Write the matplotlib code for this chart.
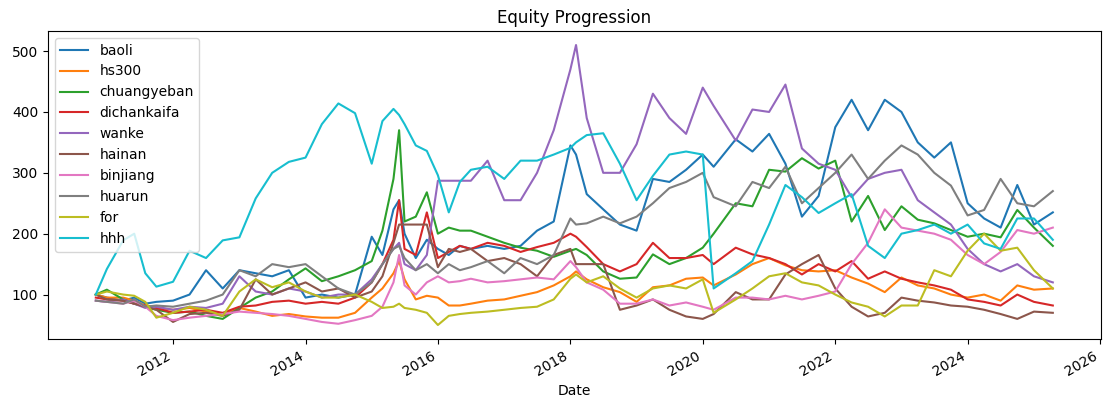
import matplotlib
matplotlib.use("Agg")
import matplotlib.pyplot as plt
import pandas as pd

dates = ["2010-11-01", "2011-01-01", "2011-04-01", "2011-06-01", "2011-08-01", "2011-10-01",
         "2012-01-01", "2012-04-01", "2012-07-01", "2012-10-01", "2013-01-01", "2013-04-01",
         "2013-07-01", "2013-10-01", "2014-01-01", "2014-04-01", "2014-07-01", "2014-10-01",
         "2015-01-01", "2015-03-01", "2015-05-01", "2015-06-01", "2015-07-01", "2015-09-01",
         "2015-11-01", "2016-01-01", "2016-03-01", "2016-05-01", "2016-07-01", "2016-10-01",
         "2017-01-01", "2017-04-01", "2017-07-01", "2017-10-01", "2018-01-01", "2018-02-01",
         "2018-04-01", "2018-07-01", "2018-10-01", "2019-01-01", "2019-04-01", "2019-07-01",
         "2019-10-01", "2020-01-01", "2020-03-01", "2020-07-01", "2020-10-01", "2021-01-01",
         "2021-04-01", "2021-07-01", "2021-10-01", "2022-01-01", "2022-04-01", "2022-07-01",
         "2022-10-01", "2023-01-01", "2023-04-01", "2023-07-01", "2023-10-01", "2024-01-01",
         "2024-04-01", "2024-07-01", "2024-10-01", "2025-01-01", "2025-04-15"]

baoli = [100, 95, 90, 95, 85, 88, 90, 100, 140, 110, 140, 135, 130, 140, 95, 100, 95, 100,
         195, 165, 240, 255, 200, 160, 190, 175, 165, 180, 175, 180, 175, 180, 205, 220, 345, 330,
         265, 240, 215, 205, 290, 285, 305, 330, 310, 355, 335, 364, 315, 228, 262, 375, 420, 370,
         420, 400, 350, 325, 350, 250, 225, 210, 280, 215, 235]
hs300 = [100, 95, 95, 90, 82, 78, 75, 78, 72, 68, 78, 72, 65, 68, 64, 62, 62, 70,
         95, 110, 135, 155, 125, 92, 98, 95, 82, 82, 85, 90, 92, 98, 104, 115, 130, 138,
         125, 112, 104, 88, 112, 115, 126, 128, 115, 133, 150, 160, 148, 140, 138, 140, 128, 118,
         104, 128, 115, 110, 100, 95, 100, 90, 115, 108, 110]
chuangyeban = [100, 108, 92, 85, 80, 75, 70, 72, 65, 60, 78, 95, 105, 125, 143, 122, 130, 140,
               155, 205, 290, 370, 220, 228, 268, 200, 210, 205, 205, 195, 185, 177, 172, 162, 172, 175,
               165, 138, 126, 128, 166, 150, 160, 177, 200, 250, 245, 305, 302, 324, 307, 320, 220, 262,
               206, 245, 223, 217, 206, 195, 200, 194, 239, 210, 180]
dichankaifa = [95, 92, 90, 85, 82, 78, 70, 72, 75, 70, 80, 82, 88, 90, 85, 88, 85, 95,
               120, 150, 190, 255, 175, 165, 235, 160, 170, 180, 175, 185, 180, 170, 178, 185, 200, 195,
               178, 150, 138, 150, 185, 160, 160, 165, 150, 177, 166, 160, 150, 133, 150, 138, 155, 126,
               138, 126, 120, 115, 108, 92, 88, 82, 100, 88, 82]
wanke = [90, 88, 92, 85, 78, 80, 75, 80, 78, 85, 130, 105, 100, 110, 105, 95, 100, 100,
         125, 150, 175, 185, 150, 140, 165, 287, 287, 287, 287, 320, 255, 255, 300, 370, 470, 510,
         390, 300, 300, 347, 430, 390, 364, 440, 410, 353, 404, 400, 445, 340, 315, 305, 260, 290,
         300, 305, 255, 235, 215, 175, 150, 138, 150, 130, 120]
hainan = [100, 92, 90, 85, 80, 75, 55, 68, 70, 65, 75, 125, 100, 110, 120, 105, 110, 95,
          105, 130, 185, 215, 215, 215, 215, 145, 175, 170, 175, 155, 160, 150, 130, 165, 175, 150,
          150, 150, 75, 82, 92, 75, 64, 60, 68, 104, 92, 92, 133, 150, 165, 110, 80, 64,
          70, 95, 90, 87, 82, 80, 75, 68, 60, 72, 70]
binjiang = [90, 88, 85, 90, 80, 65, 58, 62, 65, 68, 72, 70, 68, 65, 60, 55, 52, 58,
            65, 80, 120, 165, 115, 100, 120, 130, 120, 122, 126, 120, 122, 125, 128, 125, 155, 145,
            120, 108, 85, 85, 92, 82, 87, 80, 75, 95, 95, 92, 98, 92, 98, 105, 150, 185,
            240, 210, 205, 200, 190, 165, 150, 170, 206, 200, 210]
huarun = [90, 88, 85, 92, 80, 82, 80, 85, 90, 100, 140, 130, 150, 145, 150, 130, 110, 100,
          120, 150, 175, 180, 160, 140, 150, 135, 150, 140, 145, 155, 135, 160, 150, 165, 225, 215,
          217, 228, 217, 228, 250, 275, 285, 300, 260, 245, 285, 275, 310, 250, 275, 300, 330, 290,
          320, 345, 330, 300, 279, 230, 239, 290, 250, 245, 270]
for_ = [100, 105, 100, 98, 88, 62, 70, 80, 75, 65, 105, 125, 112, 120, 105, 95, 95, 100,
        88, 78, 80, 85, 78, 75, 70, 50, 65, 68, 70, 72, 75, 78, 80, 92, 126, 133,
        120, 130, 110, 95, 110, 115, 110, 125, 70, 92, 110, 130, 135, 120, 115, 100, 87, 80,
        64, 82, 82, 140, 130, 172, 200, 172, 177, 140, 110]
hhh = [100, 142, 189, 200, 135, 113, 121, 172, 160, 189, 194, 258, 300, 318, 325, 380, 414, 398,
       315, 385, 405, 395, 380, 345, 336, 296, 235, 285, 305, 310, 290, 320, 320, 330, 341, 350,
       362, 365, 315, 255, 295, 330, 335, 330, 110, 135, 155, 215, 280, 260, 234, 250, 265, 180,
       160, 200, 206, 215, 200, 215, 184, 175, 225, 225, 190]

df = pd.DataFrame({
    "baoli": baoli, "hs300": hs300, "chuangyeban": chuangyeban,
    "dichankaifa": dichankaifa, "wanke": wanke, "hainan": hainan,
    "binjiang": binjiang, "huarun": huarun, "for": for_, "hhh": hhh,
}, index=pd.to_datetime(dates))

fig = plt.figure(figsize=(11.1, 3.99), dpi=100)
ax = fig.add_axes([0.0432, 0.1504, 0.9484, 0.7719])
for col in df.columns:
    ax.plot(df.index, df[col], label=col, linewidth=1.5)
ax.set_title("Equity Progression")
ax.set_xlabel("Date")
ax.legend(loc="upper left")
fig.autofmt_xdate()
ax.set_position([0.0432, 0.1504, 0.9484, 0.7719])
fig.savefig("out.png", dpi=100)
